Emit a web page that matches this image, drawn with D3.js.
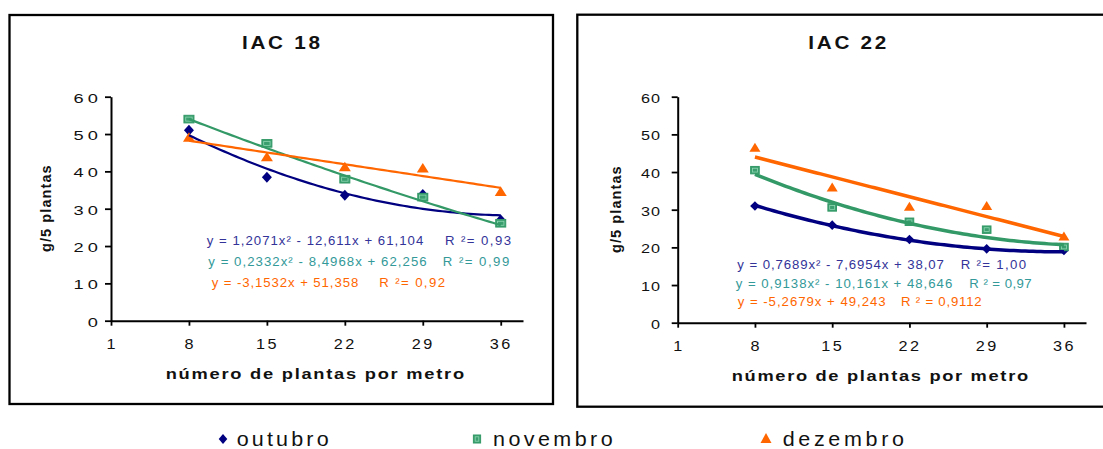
<!DOCTYPE html>
<html><head><meta charset="utf-8">
<script src="https://cdn.jsdelivr.net/npm/d3@7"></script>
<style>body{margin:0;background:#fff}svg{display:block}</style>
</head><body>
<svg id="c" width="1103" height="449"></svg>
<script>
// ---------------- data ----------------
const categories = [8, 15, 22, 29, 36];
const xTickValues = [1, 8, 15, 22, 29, 36];
const yTickValues = [0, 10, 20, 30, 40, 50, 60];
const seriesNames = ["outubro", "novembro", "dezembro"];
const panelTitles = ["IAC 18", "IAC 22"];
const xAxisTitle = "número de plantas por metro";
const yAxisTitle = "g/5 plantas";

const iac18Outubro  = [51.0, 38.4, 33.6, 33.8, 27.0];
const iac18Novembro = [54.0, 47.5, 37.9, 33.1, 26.1];
const iac18Dezembro = [49.2, 44.0, 41.3, 41.0, 34.7];
const iac22Outubro  = [31.0, 25.9, 22.1, 19.6, 19.2];
const iac22Novembro = [40.5, 30.6, 26.8, 24.7, 20.1];
const iac22Dezembro = [46.6, 36.0, 30.9, 31.1, 23.0];

// trendline coefficients [a, b, c] of y = a·x² + b·x + c (x = category index 1..5), as printed
const iac18Trend = [[1.2071, -12.611, 61.104], [0.2332, -8.4968, 62.256], [0, -3.1532, 51.358]];
const iac22Trend = [[0.7689, -7.6954, 38.07], [0.9138, -10.161, 48.646], [0, -5.2679, 49.243]];
const iac18Equations = ["y = 1,2071x² - 12,611x + 61,104", "y = 0,2332x² - 8,4968x + 62,256", "y = -3,1532x + 51,358"];
const iac18R2 = ["R ²= 0,93", "R ²= 0,99", "R ²= 0,92"];
const iac22Equations = ["y = 0,7689x² - 7,6954x + 38,07", "y = 0,9138x² - 10,161x + 48,646", "y = -5,2679x + 49,243"];
const iac22R2 = ["R ²= 1,00", "R ² = 0,97", "R ² = 0,9112"];

// ---------------- styles / layout ----------------
const FONT = "'Liberation Sans', Arial, sans-serif";
const markerColors = ["#000080", "#339966", "#FF6600"];
const lineColors = ["#000080", "#339966", "#FF6600"];
const textColors = ["#333399", "#339999", "#FF6600"];

const layouts = [
  {
    border: [9.5, 15, 553, 404],
    plot: {x0: 111, x1: 523, y0: 320.7, y60: 96.7},
    title: {x: 242, y: 49, w: 78},
    xTitle: {x: 165.7, y: 379.3, w: 298.6},
    yTitle: {x: 50.5, y: 208.7, w: 86.7},
    eq: [{x: 206.7, y: 245.3, w: 216.6, rx: 445, rw: 66},
         {x: 208.3, y: 265.5, w: 218.4, rx: 442.7, rw: 66.6},
         {x: 211.7, y: 287, w: 146.6, rx: 379.3, rw: 65.7}],
    yLab: {size: 13.5, sx: 1.35, ls: 3.2, off: 13, dy: 5.3},
    xLab: {size: 14.5, sx: 1.12, ls: 2.2, base: 28.6},
    trendW: 2.2,
    mk: {d: [5, 5.5], s: [5, 3.8], t: [6, 9.5]}
  },
  {
    border: [577.3, 14.7, 1120, 406.7],
    plot: {x0: 677.7, x1: 1086, y0: 322.7, y60: 96.7},
    title: {x: 808.3, y: 49, w: 78},
    xTitle: {x: 731.7, y: 381, w: 296.6},
    yTitle: {x: 620.5, y: 209.7, w: 86.7},
    eq: [{x: 737.3, y: 268.5, w: 206.7, rx: 960.7, rw: 65.3},
         {x: 735.7, y: 287.5, w: 216.6, rx: 969.3, rw: 62.4},
         {x: 737.7, y: 306, w: 148, rx: 901, rw: 80.7}],
    yLab: {size: 13.5, sx: 1.2, ls: 0.8, off: 17.7, dy: 5.5},
    xLab: {size: 14.5, sx: 1.12, ls: 2.2, base: 28},
    trendW: 3.5,
    mk: {d: [4.8, 4.8], s: [4.3, 3.7], t: [5.5, 9]}
  }
];

const legendLayout = [
  {mx: 223, my: 439, tx: 236.7, tw: 92},
  {mx: 477, my: 439, tx: 493, tw: 119.7},
  {mx: 766, my: 438, tx: 782.7, tw: 121.3}
];

const svg = d3.select("#c");

function addText(parent, str, o) {
  const t = parent.append("text")
    .attr("font-family", FONT)
    .attr("font-size", o.size)
    .attr("font-weight", o.weight || "normal")
    .attr("fill", o.fill || "#000")
    .attr("text-anchor", "start")
    .attr("x", 0).attr("y", 0).attr("dy", 0)
    .text(str);
  const sx = o.sx || 1;
  const w0 = t.node().getComputedTextLength();
  const n = str.length;
  let ls = o.ls || 0;
  if (o.w && n > 1) ls = (o.w / sx - w0) / (n - 1);
  if (n > 1 && ls) t.attr("letter-spacing", ls);
  const width = (w0 + (n > 1 ? ls * (n - 1) : 0)) * sx;
  const off = o.anchor === "middle" ? -width / 2 : o.anchor === "end" ? -width : 0;
  const rot = o.rotate ? " rotate(-90)" : "";
  t.attr("transform", `translate(${o.x},${o.y})${rot} translate(${off},0) scale(${sx},1)`);
  return t;
}

function diamondPath(hw, hh) { return `M0,${-hh}L${hw},0L0,${hh}L${-hw},0Z`; }
function trianglePath(hw, h) { return `M0,${-h / 2}L${hw},${h / 2}L${-hw},${h / 2}Z`; }

function drawMarker(g, type, cx, cy, mk) {
  if (type === 0) {
    g.append("path").attr("d", diamondPath(mk.d[0], mk.d[1]))
      .attr("transform", `translate(${cx},${cy})`).attr("fill", markerColors[0]);
  } else if (type === 1) {
    g.append("rect").attr("x", cx - mk.s[0]).attr("y", cy - mk.s[1])
      .attr("width", 2 * mk.s[0]).attr("height", 2 * mk.s[1])
      .attr("fill", "#3a9e6e").attr("stroke", "#339966").attr("stroke-width", 1);
    g.append("rect").attr("x", cx - mk.s[0] + 1.8).attr("y", cy - mk.s[1] + 1.8)
      .attr("width", 2 * mk.s[0] - 3.6).attr("height", 2 * mk.s[1] - 3.6)
      .attr("fill", "none").attr("stroke", "#8fd6b2").attr("stroke-width", 0.8);
  } else {
    g.append("path").attr("d", trianglePath(mk.t[0], mk.t[1]))
      .attr("transform", `translate(${cx},${cy})`).attr("fill", markerColors[2]);
  }
}

const panelData = [
  {series: [iac18Outubro, iac18Novembro, iac18Dezembro], trend: iac18Trend, eqs: iac18Equations, r2: iac18R2},
  {series: [iac22Outubro, iac22Novembro, iac22Dezembro], trend: iac22Trend, eqs: iac22Equations, r2: iac22R2}
];

panelData.forEach((pd, pi) => {
  const L = layouts[pi];
  const g = svg.append("g");
  const [bx0, by0, bx1, by1] = L.border;
  g.append("rect").attr("x", bx0).attr("y", by0).attr("width", bx1 - bx0).attr("height", by1 - by0)
    .attr("fill", "#fff").attr("stroke", "#000").attr("stroke-width", 2.3);

  const xs = d3.scaleLinear().domain([1, 38]).range([L.plot.x0, L.plot.x1]);
  const ys = d3.scaleLinear().domain([0, 60]).range([L.plot.y0, L.plot.y60]);
  const idx = d3.scaleLinear().domain([1, categories.length]).range([categories[0], categories[categories.length - 1]]);

  // axes
  const xg = g.append("g").attr("transform", `translate(0,${L.plot.y0})`)
    .call(d3.axisBottom(xs).tickValues(xTickValues).tickSize(5).tickSizeOuter(0));
  const yg = g.append("g").attr("transform", `translate(${L.plot.x0},0)`)
    .call(d3.axisLeft(ys).tickValues(yTickValues).tickSize(6).tickSizeOuter(0));
  [xg, yg].forEach(a => {
    a.select(".domain").attr("stroke", "#000").attr("stroke-width", 2);
    a.selectAll(".tick line").attr("stroke", "#000").attr("stroke-width", 1.8);
  });
  xg.selectAll(".tick").each(function () {
    const s = d3.select(this);
    const lab = s.select("text").text();
    s.select("text").remove();
    addText(s, lab, {x: lab.length > 1 ? -1.2 : -0.5, y: L.xLab.base, size: L.xLab.size, sx: L.xLab.sx, ls: L.xLab.ls, anchor: "middle", fill: "#111"});
  });
  yg.selectAll(".tick").each(function () {
    const s = d3.select(this);
    const lab = s.select("text").text();
    s.select("text").remove();
    addText(s, lab, {x: -L.yLab.off, y: L.yLab.dy, size: L.yLab.size, sx: L.yLab.sx, ls: L.yLab.ls, anchor: "end", fill: "#111"});
  });

  // markers
  const mg = g.append("g");
  pd.series.forEach((vals, si) => {
    vals.forEach((v, i) => drawMarker(mg, si, xs(categories[i]), ys(v), L.mk));
  });

  // trendlines
  const tvals = d3.range(1, categories.length + 0.0001, 0.05);
  pd.trend.forEach((c, si) => {
    const line = d3.line().x(t => xs(idx(t))).y(t => ys(c[0] * t * t + c[1] * t + c[2]));
    g.append("path").attr("d", line(tvals)).attr("fill", "none")
      .attr("stroke", lineColors[si]).attr("stroke-width", L.trendW)
      .attr("stroke-linejoin", "round").attr("stroke-linecap", "butt");
  });

  // equations
  pd.eqs.forEach((e, i) => {
    const E = L.eq[i];
    addText(g, e, {x: E.x, y: E.y, w: E.w, size: 12, sx: 1.1, fill: textColors[i]});
    addText(g, pd.r2[i], {x: E.rx, y: E.y, w: E.rw, size: 12, sx: 1.1, fill: textColors[i]});
  });

  // titles
  addText(g, panelTitles[pi], {x: L.title.x, y: L.title.y, w: L.title.w, size: 18, weight: "bold", sx: 1.15, fill: "#111"});
  addText(g, xAxisTitle, {x: L.xTitle.x, y: L.xTitle.y, w: L.xTitle.w, size: 15, weight: "bold", sx: 1.22, fill: "#111"});
  addText(g, yAxisTitle, {x: L.yTitle.x, y: L.yTitle.y, w: L.yTitle.w, size: 14.5, weight: "bold", rotate: true, anchor: "middle", fill: "#111"});
});

// legend
const lg = svg.append("g");
const legMk = {d: [4.3, 5], s: [3.6, 4], t: [5.5, 10]};
seriesNames.forEach((name, i) => {
  const l = legendLayout[i];
  drawMarker(lg, i, l.mx, l.my, legMk);
  addText(lg, name, {x: l.tx, y: 446, w: l.tw, size: 20.5, sx: 1.05, fill: "#111"});
});
</script>
</body></html>
